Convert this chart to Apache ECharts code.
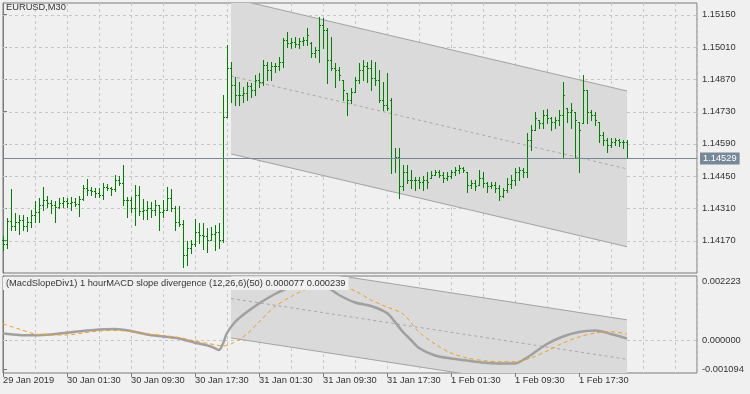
<!DOCTYPE html>
<html><head><meta charset="utf-8">
<script src="https://cdn.jsdelivr.net/npm/echarts@6/dist/echarts.min.js"></script>
<style>html,body{margin:0;padding:0;background:#f0f0f0}#c{width:750px;height:394px}</style>
</head><body><div id="c"></div>
<script>
// ---- data (EURUSD M30 bars, index 0 = 29 Jan 2019 17:30) ----
const open = [
1.14172,1.14155,1.14255,1.14233,1.14251,1.14259,1.14233,1.14251,1.14281,1.14294,
1.14324,1.14346,1.14333,1.14324,1.14316,1.14333,1.14342,1.14333,1.14337,1.14329,
1.14350,1.14398,1.14389,1.14385,1.14376,1.14368,1.14402,1.14398,1.14394,1.14433,
1.14420,1.14346,1.14346,1.14311,1.14368,1.14298,1.14303,1.14311,1.14303,1.14324,
1.14294,1.14303,1.14355,1.14311,1.14251,1.14242,1.14107,1.14138,1.14155,1.14207,
1.14194,1.14190,1.14172,1.14198,1.14207,1.14172,1.14706,1.14919,1.14845,1.14802,
1.14802,1.14810,1.14841,1.14823,1.14867,1.14858,1.14932,1.14910,1.14928,1.14928,
1.14945,1.15040,1.15027,1.15032,1.15023,1.15036,1.15040,1.15027,1.14984,1.14997,
1.15106,1.15084,1.14954,1.14919,1.14910,1.14867,1.14810,1.14780,1.14815,1.14867,
1.14910,1.14928,1.14919,1.14876,1.14867,1.14780,1.14758,1.14780,1.14528,1.14533,
1.14407,1.14468,1.14433,1.14433,1.14433,1.14424,1.14433,1.14442,1.14455,1.14468,
1.14455,1.14442,1.14450,1.14468,1.14476,1.14485,1.14468,1.14411,1.14420,1.14411,
1.14442,1.14420,1.14407,1.14411,1.14398,1.14363,1.14389,1.14415,1.14433,1.14468,
1.14476,1.14468,1.14606,1.14650,1.14693,1.14680,1.14715,1.14702,1.14685,1.14693,
1.14715,1.14745,1.14728,1.14728,1.14685,1.14680,1.14823,1.14728,1.14715,1.14685,
1.14628,1.14606,1.14585,1.14598,1.14606,1.14598,1.14598];
const high = [
1.14190,1.14268,1.14394,1.14290,1.14281,1.14281,1.14272,1.14303,1.14342,1.14355,
1.14402,1.14363,1.14346,1.14342,1.14355,1.14359,1.14355,1.14359,1.14355,1.14363,
1.14411,1.14437,1.14402,1.14398,1.14398,1.14420,1.14415,1.14402,1.14455,1.14450,
1.14498,1.14359,1.14359,1.14411,1.14407,1.14350,1.14342,1.14337,1.14346,1.14324,
1.14346,1.14402,1.14394,1.14320,1.14320,1.14259,1.14168,1.14172,1.14264,1.14246,
1.14246,1.14225,1.14229,1.14238,1.14246,1.14802,1.15019,1.14945,1.14880,1.14858,
1.14836,1.14858,1.14854,1.14889,1.14897,1.14954,1.14945,1.14945,1.14941,1.14967,
1.15049,1.15075,1.15049,1.15053,1.15049,1.15053,1.15092,1.15032,1.15010,1.15140,
1.15136,1.15092,1.15053,1.14941,1.14923,1.14867,1.14810,1.14832,1.14880,1.14941,
1.14954,1.14945,1.14954,1.14945,1.14910,1.14858,1.14897,1.14789,1.14572,1.14572,
1.14498,1.14498,1.14476,1.14446,1.14446,1.14450,1.14468,1.14472,1.14476,1.14476,
1.14468,1.14468,1.14476,1.14489,1.14498,1.14489,1.14468,1.14433,1.14433,1.14476,
1.14468,1.14424,1.14424,1.14424,1.14411,1.14398,1.14442,1.14455,1.14485,1.14489,
1.14485,1.14637,1.14672,1.14728,1.14693,1.14737,1.14741,1.14706,1.14706,1.14737,
1.14858,1.14745,1.14767,1.14728,1.14685,1.14889,1.14823,1.14737,1.14728,1.14685,
1.14641,1.14615,1.14615,1.14615,1.14611,1.14606,1.14606];
const low = [
1.14129,1.14138,1.14216,1.14216,1.14198,1.14216,1.14212,1.14229,1.14251,1.14251,
1.14303,1.14316,1.14290,1.14251,1.14311,1.14316,1.14316,1.14303,1.14320,1.14277,
1.14346,1.14368,1.14368,1.14359,1.14359,1.14350,1.14389,1.14368,1.14385,1.14411,
1.14324,1.14272,1.14294,1.14238,1.14281,1.14264,1.14264,1.14272,1.14281,1.14216,
1.14272,1.14307,1.14298,1.14216,1.14233,1.14055,1.14064,1.14116,1.14146,1.14159,
1.14133,1.14120,1.14172,1.14129,1.14138,1.14164,1.14706,1.14771,1.14758,1.14758,
1.14771,1.14780,1.14793,1.14802,1.14836,1.14845,1.14867,1.14867,1.14902,1.14910,
1.14923,1.15010,1.15006,1.15010,1.15006,1.15019,1.15019,1.14967,1.14967,1.14945,
1.15006,1.14854,1.14910,1.14836,1.14867,1.14780,1.14715,1.14767,1.14815,1.14854,
1.14867,1.14858,1.14823,1.14845,1.14771,1.14737,1.14737,1.14463,1.14468,1.14355,
1.14389,1.14420,1.14398,1.14389,1.14398,1.14389,1.14398,1.14442,1.14455,1.14446,
1.14424,1.14433,1.14442,1.14455,1.14463,1.14468,1.14381,1.14398,1.14389,1.14411,
1.14402,1.14381,1.14398,1.14381,1.14346,1.14359,1.14381,1.14398,1.14411,1.14433,
1.14446,1.14446,1.14563,1.14650,1.14658,1.14658,1.14680,1.14650,1.14658,1.14672,
1.14528,1.14685,1.14658,1.14533,1.14468,1.14680,1.14680,1.14693,1.14672,1.14598,
1.14585,1.14554,1.14576,1.14585,1.14580,1.14572,1.14528];
const close = [
1.14155,1.14255,1.14233,1.14251,1.14259,1.14233,1.14251,1.14281,1.14294,1.14324,
1.14346,1.14333,1.14324,1.14316,1.14333,1.14342,1.14333,1.14337,1.14329,1.14350,
1.14398,1.14389,1.14385,1.14376,1.14368,1.14402,1.14398,1.14394,1.14433,1.14420,
1.14346,1.14346,1.14311,1.14368,1.14298,1.14303,1.14311,1.14303,1.14324,1.14294,
1.14303,1.14355,1.14311,1.14251,1.14242,1.14107,1.14138,1.14155,1.14207,1.14194,
1.14190,1.14172,1.14198,1.14207,1.14172,1.14706,1.14919,1.14845,1.14802,1.14802,
1.14810,1.14841,1.14823,1.14867,1.14858,1.14932,1.14910,1.14928,1.14928,1.14945,
1.15040,1.15027,1.15032,1.15023,1.15036,1.15040,1.15062,1.14984,1.14997,1.15106,
1.15084,1.14954,1.14919,1.14910,1.14889,1.14823,1.14780,1.14815,1.14867,1.14910,
1.14928,1.14919,1.14876,1.14867,1.14780,1.14758,1.14745,1.14528,1.14533,1.14407,
1.14468,1.14433,1.14433,1.14433,1.14424,1.14433,1.14424,1.14455,1.14468,1.14455,
1.14442,1.14450,1.14468,1.14476,1.14485,1.14476,1.14411,1.14420,1.14407,1.14442,
1.14420,1.14407,1.14411,1.14398,1.14363,1.14389,1.14415,1.14433,1.14468,1.14476,
1.14468,1.14606,1.14650,1.14702,1.14680,1.14715,1.14702,1.14685,1.14693,1.14715,
1.14802,1.14728,1.14737,1.14693,1.14650,1.14823,1.14728,1.14715,1.14693,1.14628,
1.14606,1.14585,1.14598,1.14606,1.14598,1.14598,1.14529];

// MACD (grey) and signal (orange dashed) as [bar index, value]
const macdPoints = [[0,0.000263],[4,0.000206],[8,0.000195],[12,0.000225],[16,0.000293],[20,0.000356],[24,0.000413],[28,0.000431],[32,0.000356],[36,0.000225],[40,0.000150],[44,0.000075],[48,-0.000083],[52,-0.000225],[54,-0.000356],[55,-0.000110],[56,0.000281],[58,0.000694],[60,0.000956],[62,0.001181],[64,0.001388],[68,0.001744],[72,0.002006],[76,0.002138],[80,0.002081],[84,0.001706],[88,0.001425],[92,0.001294],[96,0.001031],[98,0.000694],[100,0.000319],[102,0.000019],[104,-0.000281],[108,-0.000563],[112,-0.000675],[116,-0.000750],[120,-0.000825],[124,-0.000863],[128,-0.000863],[130,-0.000731],[132,-0.000544],[136,-0.000131],[140,0.000150],[144,0.000319],[148,0.000375],[152,0.000244],[156,0.000077]];
const signalPoints = [[0,0.000619],[4,0.000431],[8,0.000244],[12,0.000206],[16,0.000206],[20,0.000281],[24,0.000356],[28,0.000375],[32,0.000338],[36,0.000244],[40,0.000188],[44,0.000113],[48,-0.000019],[52,-0.000131],[55,-0.000206],[57,-0.000131],[59,0.000038],[61,0.000244],[64,0.000694],[68,0.001275],[72,0.001643],[76,0.001931],[80,0.002063],[84,0.002063],[88,0.001856],[92,0.001519],[96,0.001256],[100,0.000994],[104,0.000319],[108,-0.000131],[112,-0.000469],[116,-0.000656],[120,-0.000750],[124,-0.000795],[128,-0.000795],[132,-0.000656],[136,-0.000394],[140,-0.000094],[144,0.000131],[148,0.000281],[152,0.000330],[156,0.000239]];

// regression channels: [startBar, midStart, endBar, midEnd], half width
const mainChannel = [57, 1.14884, 156, 1.14481];
const mainChannelHalf = 0.00338;
const subChannel = [57, 0.001575, 156, -0.000705];
const subChannelHalf = 0.00148;

const lastPrice = 1.14529;
const priceTicks = [1.14170,1.14310,1.14450,1.14590,1.14730,1.14870,1.15010,1.15150];
const subTicks = [-0.001094, 0, 0.002223];
const subGrid = [0];
const timeBars = [0,16,32,48,64,80,96,112,128,144];
const timeLabels = ['29 Jan 2019','30 Jan 01:30','30 Jan 09:30','30 Jan 17:30','31 Jan 01:30','31 Jan 09:30','31 Jan 17:30','1 Feb 01:30','1 Feb 09:30','1 Feb 17:30'];
const indTitle = '(MacdSlopeDiv1) 1 hourMACD slope divergence (12,26,6)(50) 0.000077 0.000239';

// ---- style ----
const FONT = 'Liberation Sans';
const FS = 9.3;
const TXT = '#333333';
const GREEN = '#008000';
const GRIDC = '#c6c6c6';
const BORDER = '#7a7a7a';
const PRICEC = '#778899';
const XMAX = 173.5;

const chart = echarts.init(document.getElementById('c'), null, {renderer:'canvas'});

function renderOHLC(params, api){
  const i = api.value(0);
  const o = api.coord([i, api.value(1)]);
  const h = api.coord([i, api.value(2)]);
  const l = api.coord([i, api.value(3)]);
  const c = api.coord([i, api.value(4)]);
  const px = Math.round(h[0]);
  const x = px + 0.5;
  const yo = Math.round(o[1]) + 0.5, yc = Math.round(c[1]) + 0.5;
  const st = {stroke: GREEN, lineWidth: 1};
  return {type:'group', children:[
    {type:'line', shape:{x1:x, y1:Math.round(h[1]), x2:x, y2:Math.round(l[1])+1}, style:st},
    {type:'line', shape:{x1:px-1, y1:yo, x2:px+1, y2:yo}, style:st},
    {type:'line', shape:{x1:px, y1:yc, x2:px+2, y2:yc}, style:st}
  ]};
}
function makeChannelRenderer(half){
  return function(params, api){
    const b0 = api.value(0), m0 = api.value(1), b1 = api.value(2), m1 = api.value(3);
    const u0 = api.coord([b0, m0 + half]), u1 = api.coord([b1, m1 + half]);
    const d0 = api.coord([b0, m0 - half]), d1 = api.coord([b1, m1 - half]);
    const c0 = api.coord([b0, m0]), c1 = api.coord([b1, m1]);
    const cs = params.coordSys;
    return {type:'group', clipPath:{type:'rect', shape:{x:cs.x, y:cs.y, width:cs.width, height:cs.height}}, children:[
      {type:'polygon', shape:{points:[u0,u1,d1,d0]}, style:{fill:'#dadada'}},
      {type:'line', shape:{x1:u0[0],y1:u0[1],x2:u1[0],y2:u1[1]}, style:{stroke:'#a2a2a2', lineWidth:1}},
      {type:'line', shape:{x1:d0[0],y1:d0[1],x2:d1[0],y2:d1[1]}, style:{stroke:'#a2a2a2', lineWidth:1}},
      {type:'line', shape:{x1:c0[0],y1:c0[1],x2:c1[0],y2:c1[1]}, style:{stroke:'#a8a8a8', lineWidth:1, lineDash:[3,3]}}
    ]};
  };
}
function renderHGrid(params, api){
  const cs = params.coordSys;
  const y = Math.round(api.coord([0, api.value(1)])[1]) + 0.5;
  return {type:'line', shape:{x1:cs.x, y1:y, x2:cs.x+cs.width, y2:y}, style:{stroke:GRIDC, lineWidth:1, lineDash:[3,3]}};
}
function renderPriceLine(params, api){
  const cs = params.coordSys;
  const v = api.value(1);
  const y = Math.round(api.coord([0, v])[1]) + 0.5;
  return {type:'group', children:[
    {type:'line', shape:{x1:cs.x, y1:y, x2:cs.x+cs.width, y2:y}, style:{stroke:PRICEC, lineWidth:1}},
    {type:'text', x:cs.x+cs.width+3, y:y, style:{text:v.toFixed(5), fill:'#ffffff', backgroundColor:PRICEC,
      padding:[2,3,1,3], font:FS+'px "'+FONT+'"', align:'left', verticalAlign:'middle'}}
  ]};
}

const xBase = {type:'value', min:0, max:XMAX, interval:8,
  axisLine:{show:false}, axisTick:{show:false}, axisLabel:{show:false},
  splitLine:{show:true, lineStyle:{color:GRIDC, type:[3,3], width:1}}};

const option = {
  backgroundColor:'#f0f0f0',
  animation:false,
  textStyle:{fontFamily:FONT},
  title:[
    {text:'EURUSD,M30', left:6, top:3, padding:0, z:10,
     textStyle:{fontFamily:FONT, fontSize:FS, fontWeight:'normal', color:TXT}},
    {text:indTitle, left:3, top:277, padding:[2,3,2,3], backgroundColor:'#f0f0f0', z:10,
     textStyle:{fontFamily:FONT, fontSize:FS, fontWeight:'normal', color:TXT}}
  ],
  grid:[
    {left:3, right:53, top:3, height:270, show:true, borderColor:BORDER, borderWidth:1, backgroundColor:'transparent'},
    {left:3, right:53, top:276, height:97, show:true, borderColor:BORDER, borderWidth:1, backgroundColor:'transparent'}
  ],
  xAxis:[
    Object.assign({gridIndex:0}, xBase),
    Object.assign({gridIndex:1}, xBase),
    {gridIndex:1, type:'value', min:0, max:XMAX, position:'bottom',
     axisLine:{show:false}, splitLine:{show:false},
     axisTick:{show:true, customValues:timeBars, length:4, lineStyle:{color:BORDER}},
     axisLabel:{show:true, customValues:timeBars, align:'left', margin:3, color:TXT, fontFamily:FONT, fontSize:FS,
       formatter:function(v){ const k = timeBars.indexOf(Math.round(v)); return k>=0 ? timeLabels[k] : ''; }}}
  ],
  yAxis:[
    {gridIndex:0, type:'value', position:'right', min:1.14029, max:1.15201, scale:true,
     axisLine:{show:true, lineStyle:{color:BORDER}}, splitLine:{show:false},
     axisTick:{show:true, customValues:priceTicks, length:4, lineStyle:{color:BORDER}},
     axisLabel:{show:true, customValues:priceTicks, margin:5, color:TXT, fontFamily:FONT, fontSize:FS,
       formatter:function(v){ return v.toFixed(5); }}},
    {gridIndex:1, type:'value', position:'right', min:-0.001219, max:0.002419, scale:true,
     axisLine:{show:true, lineStyle:{color:BORDER}}, splitLine:{show:false},
     axisTick:{show:true, customValues:subTicks, length:4, lineStyle:{color:BORDER}},
     axisLabel:{show:true, customValues:subTicks, margin:5, color:TXT, fontFamily:FONT, fontSize:FS,
       formatter:function(v){ return v.toFixed(6); }}}
  ],
  series:[
    {type:'custom', name:'hgrid', xAxisIndex:0, yAxisIndex:0, z:1, silent:true,
     renderItem:renderHGrid, data:priceTicks.map(function(p){return [0,p];})},
    {type:'custom', name:'channel', xAxisIndex:0, yAxisIndex:0, z:2, silent:true,
     renderItem:makeChannelRenderer(mainChannelHalf), data:[mainChannel]},
    {type:'custom', name:'EURUSD', xAxisIndex:0, yAxisIndex:0, z:3, silent:true,
     renderItem:renderOHLC, data:close.map(function(c,i){return [i, open[i], high[i], low[i], c];})},
    {type:'custom', name:'last', xAxisIndex:0, yAxisIndex:0, z:4, silent:true,
     renderItem:renderPriceLine, data:[[0, lastPrice]]},
    {type:'custom', name:'subgrid', xAxisIndex:1, yAxisIndex:1, z:1, silent:true,
     renderItem:renderHGrid, data:subGrid.map(function(p){return [0,p];})},
    {type:'custom', name:'subchannel', xAxisIndex:1, yAxisIndex:1, z:2, silent:true,
     renderItem:makeChannelRenderer(subChannelHalf), data:[subChannel]},
    {type:'line', name:'MACD', xAxisIndex:1, yAxisIndex:1, z:3, showSymbol:false, smooth:0.3,
     data:macdPoints, lineStyle:{color:'#a0a0a0', width:2.5}},
    {type:'line', name:'Signal', xAxisIndex:1, yAxisIndex:1, z:4, showSymbol:false, smooth:0.3,
     data:signalPoints, lineStyle:{color:'#f0a020', width:1, type:[4,3]}}
  ]
};
chart.setOption(option);
</script></body></html>
